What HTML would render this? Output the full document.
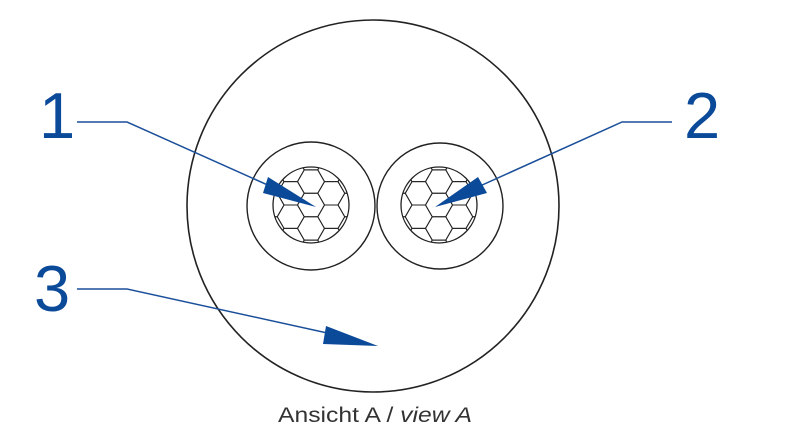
<!DOCTYPE html>
<html><head><meta charset="utf-8"><style>html,body{margin:0;padding:0;background:#fff;width:800px;height:441px;overflow:hidden}</style></head>
<body>
<svg width="800" height="441" viewBox="0 0 800 441" xmlns="http://www.w3.org/2000/svg">
<defs>
<path id="h" d="M13.5,0 L6.75,11.7 L-6.75,11.7 L-13.5,0 L-6.75,-11.7 L6.75,-11.7Z" fill="none" stroke="#222" stroke-width="1"/>
<clipPath id="c"><circle cx="0" cy="0" r="38"/></clipPath>
<g id="b">
<g clip-path="url(#c)">
<use href="#h"/>
<use href="#h" x="0" y="-23.4"/><use href="#h" x="0" y="23.4"/>
<use href="#h" x="20.25" y="-11.7"/><use href="#h" x="20.25" y="11.7"/>
<use href="#h" x="-20.25" y="-11.7"/><use href="#h" x="-20.25" y="11.7"/>
<use href="#h" x="0" y="-46.8"/><use href="#h" x="0" y="46.8"/>
<use href="#h" x="40.5" y="-23.4"/><use href="#h" x="40.5" y="23.4"/><use href="#h" x="40.5" y="0"/>
<use href="#h" x="-40.5" y="-23.4"/><use href="#h" x="-40.5" y="23.4"/><use href="#h" x="-40.5" y="0"/>
<use href="#h" x="20.25" y="-35.1"/><use href="#h" x="20.25" y="35.1"/>
<use href="#h" x="-20.25" y="-35.1"/><use href="#h" x="-20.25" y="35.1"/>
</g>
<circle cx="0" cy="0" r="38" fill="none" stroke="#222" stroke-width="1.3"/>
</g>
</defs>
<circle cx="373" cy="206" r="186" fill="none" stroke="#222" stroke-width="1.6"/>
<circle cx="311" cy="206" r="64" fill="none" stroke="#222" stroke-width="1.4"/>
<circle cx="440" cy="206" r="63" fill="none" stroke="#222" stroke-width="1.4"/>
<use href="#b" x="311" y="205"/>
<use href="#b" x="439" y="205"/>
<g stroke="#1a4f9a" stroke-width="1.5" fill="none">
<polyline points="77,122 127,122 290,195"/>
<polyline points="672,122 622,122 460,195"/>
<polyline points="77,289 127,289 350,338"/>
</g>
<g fill="#0b4a99">
<polygon points="268,177 263,193 316,207"/>
<polygon points="478,177 487,193 435,207"/>
<polygon points="326,326 323,344 378,346"/>
</g>
<g fill="#0b4a99" font-family="Liberation Sans, sans-serif" font-size="65">
<text x="39" y="138">1</text>
<text x="684" y="138">2</text>
<text x="34" y="311">3</text>
</g>
<text x="278" y="422" font-family="Liberation Sans, sans-serif" font-size="21" fill="#333" textLength="194" lengthAdjust="spacingAndGlyphs">Ansicht A / <tspan font-style="italic">view A</tspan></text>
</svg>
</body></html>
